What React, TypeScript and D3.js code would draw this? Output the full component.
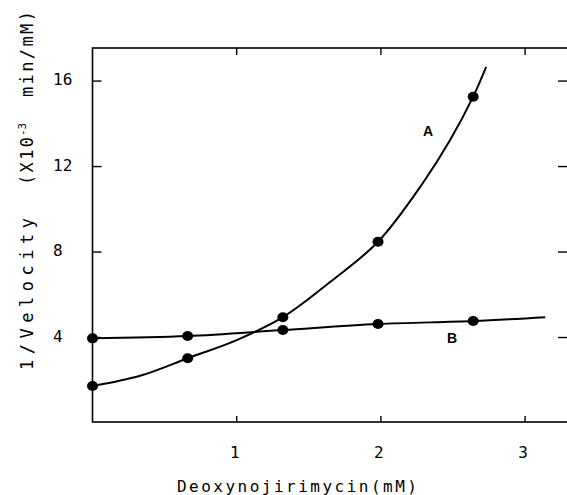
import * as d3 from "d3";

// doses (mM)
const doses = [0, 0.66, 1.32, 1.98, 2.64];
const valuesA = [1.73, 3.03, 4.95, 8.48, 15.27];
const valuesB = [3.96, 4.07, 4.35, 4.63, 4.77];

// hand traced fitted curves
const traceAx = [0, 0.33, 0.66, 1.0, 1.32, 1.65, 1.98, 2.29, 2.48, 2.64, 2.73];
const traceAy = [1.73, 2.21, 3.03, 3.88, 4.95, 6.61, 8.48, 11.22, 13.24, 15.27, 16.66];
const traceBx = [0, 0.66, 1.32, 1.98, 2.64, 3.14];
const traceBy = [3.96, 4.07, 4.35, 4.63, 4.77, 4.95];

const xTicks = [1, 2, 3];
const yTicks = [4, 8, 12, 16];

const W = 567;
const H = 495;
const frame = { left: 92.5, right: 568, top: 48, bottom: 422 };
const mono = "'DejaVu Sans Mono', monospace";

export default function App() {
  const x = d3.scaleLinear().domain([0, 1]).range([frame.left, frame.left + 144.2]);
  const y = d3.scaleLinear().domain([0, 16]).range([423, 423 - 16 * 21.37]);

  const line = d3
    .line<[number, number]>()
    .x(d => x(d[0]))
    .y(d => y(d[1]))
    .curve(d3.curveCatmullRom.alpha(0.5));

  const pathA = line(traceAx.map((v, i) => [v, traceAy[i]]));
  const pathB = line(traceBx.map((v, i) => [v, traceBy[i]]));

  return (
    <svg
      width={W}
      height={H}
      style={{ position: "absolute", left: 0, top: 0, background: "#fff" }}
    >
      <rect
        x={frame.left}
        y={frame.top}
        width={frame.right - frame.left}
        height={frame.bottom - frame.top}
        fill="none"
        stroke="#000"
        strokeWidth={1.6}
      />

      {xTicks.map(t => (
        <g key={"x" + t}>
          <line x1={x(t)} x2={x(t)} y1={frame.bottom} y2={frame.bottom - 6} stroke="#000" strokeWidth={1.4} />
          <line x1={x(t)} x2={x(t)} y1={frame.top} y2={frame.top + 7} stroke="#000" strokeWidth={1.4} />
          <text x={x(t) - 2} y={458} fontFamily={mono} fontSize={16} textAnchor="middle">
            {t}
          </text>
        </g>
      ))}

      {yTicks.map(t => (
        <g key={"y" + t}>
          <line x1={frame.left} x2={frame.left + 9} y1={y(t)} y2={y(t)} stroke="#000" strokeWidth={1.4} />
          <line x1={558} x2={frame.right} y1={y(t)} y2={y(t)} stroke="#000" strokeWidth={1.4} />
          <text x={53} y={y(t) + 4} fontFamily={mono} fontSize={16}>
            {t}
          </text>
        </g>
      ))}

      <path d={pathA ?? ""} fill="none" stroke="#000" strokeWidth={2} />
      <path d={pathB ?? ""} fill="none" stroke="#000" strokeWidth={2} />

      {doses.map((d, i) => (
        <g key={"p" + i}>
          <ellipse cx={x(d)} cy={y(valuesA[i])} rx={5.5} ry={5} fill="#000" />
          <ellipse cx={x(d)} cy={y(valuesB[i])} rx={5.5} ry={5} fill="#000" />
        </g>
      ))}

      <text x={428} y={136} fontFamily="'Liberation Sans', Arial, sans-serif" fontWeight="bold" fontSize={14} textAnchor="middle">
        A
      </text>
      <text x={452} y={343} fontFamily="'Liberation Sans', Arial, sans-serif" fontWeight="bold" fontSize={14} textAnchor="middle">
        B
      </text>

      <text x={177} y={492} fontFamily={mono} fontSize={16} textLength={240} lengthAdjust="spacing">
        Deoxynojirimycin(mM)
      </text>

      <g transform="translate(33,0) rotate(-90)" fontFamily={mono} fontSize={17}>
        <text x={-370} y={0} textLength={152} lengthAdjust="spacing">
          1/Velocity
        </text>
        <text x={-185} y={0} textLength={48} lengthAdjust="spacing">
          (X10
        </text>
        <text x={-136} y={-7} fontSize={11}>
          -3
        </text>
        <text x={-97} y={0} textLength={86} lengthAdjust="spacing">
          min/mM)
        </text>
      </g>
    </svg>
  );
}
